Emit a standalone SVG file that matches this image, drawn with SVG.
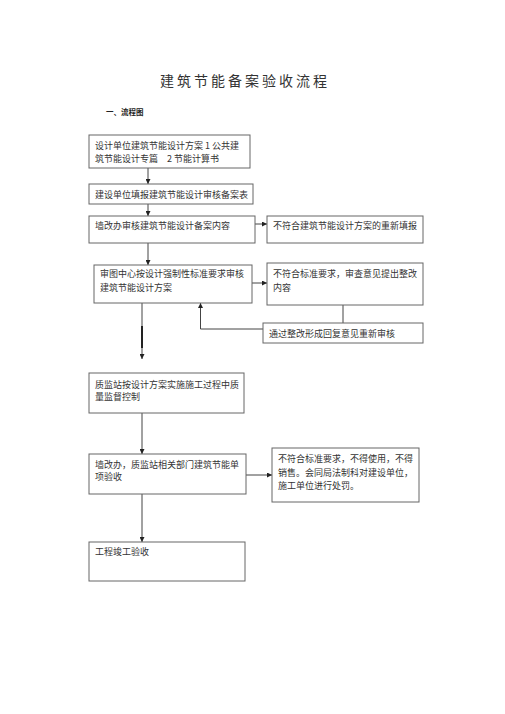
<svg xmlns="http://www.w3.org/2000/svg" width="505" height="714" viewBox="0 0 505 714">
<style>
.box{fill:#fff;stroke:#666;stroke-width:1}
.t{font-family:"Noto Sans CJK SC","Noto Sans",sans-serif;font-size:9px;fill:#333}
.ln{stroke:#444;stroke-width:1;fill:none}
</style>
<defs>
<marker id="ah" viewBox="0 0 6 6" refX="6" refY="3" markerWidth="5" markerHeight="5" orient="auto" markerUnits="userSpaceOnUse">
<path d="M0,0 L6,3 L0,6 Z" fill="#222"/>
</marker>
</defs>
<rect width="505" height="714" fill="#fff"/>
<text x="160" y="86" style="font-family:'Noto Sans CJK SC',sans-serif;font-size:14px;fill:#333;letter-spacing:3px">建筑节能备案验收流程</text>
<text x="106" y="115" style="font-family:'Noto Sans CJK SC',sans-serif;font-size:7.5px;font-weight:bold;fill:#222">一、流程图</text>

<g id="connectors">
<line class="ln" x1="148" y1="168" x2="148" y2="184" marker-end="url(#ah)"/>
<line class="ln" x1="148" y1="204" x2="148" y2="216" marker-end="url(#ah)"/>
<line class="ln" x1="255" y1="224" x2="267" y2="224" marker-end="url(#ah)"/>
<line class="ln" x1="148" y1="243" x2="148" y2="265" marker-end="url(#ah)"/>
<line class="ln" x1="252" y1="283" x2="267" y2="283" marker-end="url(#ah)"/>
<line class="ln" x1="343" y1="305" x2="343" y2="323"/>
<polyline class="ln" points="263,329 200.5,329 200.5,303" marker-end="url(#ah)"/>
<line class="ln" x1="142" y1="303" x2="142" y2="359" marker-end="url(#ah)"/>
<line x1="142" y1="326" x2="142" y2="348" stroke="#222" stroke-width="2"/>
<line class="ln" x1="142" y1="413" x2="142" y2="454" marker-end="url(#ah)"/>
<line class="ln" x1="246" y1="475" x2="272" y2="475" marker-end="url(#ah)"/>
<line class="ln" x1="142" y1="494" x2="142" y2="542" marker-end="url(#ah)"/>
</g>

<g id="n1"><rect class="box" x="89" y="135" width="161" height="33"/>
<text class="t" x="95" y="148.5">设计单位建筑节能设计方案 1 公共建</text>
<text class="t" x="95" y="162">筑节能设计专篇　2 节能计算书</text></g>
<g id="n2"><rect class="box" x="89" y="184" width="164" height="20"/>
<text class="t" x="95" y="198">建设单位填报建筑节能设计审核备案表</text></g>
<g id="n3"><rect class="box" x="89" y="216" width="166" height="27"/>
<text class="t" x="95" y="229">墙改办审核建筑节能设计备案内容</text></g>
<g id="n4"><rect class="box" x="267" y="216" width="156" height="27"/>
<text class="t" x="273" y="229">不符合建筑节能设计方案的重新填报</text></g>
<g id="n5"><rect class="box" x="94" y="265" width="158" height="38"/>
<text class="t" x="100" y="277">审图中心按设计强制性标准要求审核</text>
<text class="t" x="100" y="291">建筑节能设计方案</text></g>
<g id="n6"><rect class="box" x="267" y="263" width="156" height="42"/>
<text class="t" x="273" y="277">不符合标准要求，审查意见提出整改</text>
<text class="t" x="273" y="291">内容</text></g>
<g id="n7"><rect class="box" x="263" y="323" width="160" height="20"/>
<text class="t" x="269" y="337">通过整改形成回复意见重新审核</text></g>
<g id="n8"><rect class="box" x="89" y="373" width="155" height="40"/>
<text class="t" x="95" y="388">质监站按设计方案实施施工过程中质</text>
<text class="t" x="95" y="400">量监督控制</text></g>
<g id="n9"><rect class="box" x="89" y="454" width="157" height="40"/>
<text class="t" x="95" y="468">墙改办，质监站相关部门建筑节能单</text>
<text class="t" x="95" y="480">项验收</text></g>
<g id="n10"><rect class="box" x="272" y="448" width="147" height="54"/>
<text class="t" x="278" y="462">不符合标准要求，不得使用，不得</text>
<text class="t" x="278" y="476">销售。会同局法制科对建设单位，</text>
<text class="t" x="278" y="489">施工单位进行处罚。</text></g>
<g id="n11"><rect class="box" x="89" y="542" width="156" height="39"/>
<text class="t" x="95" y="555">工程竣工验收</text></g>
</svg>
